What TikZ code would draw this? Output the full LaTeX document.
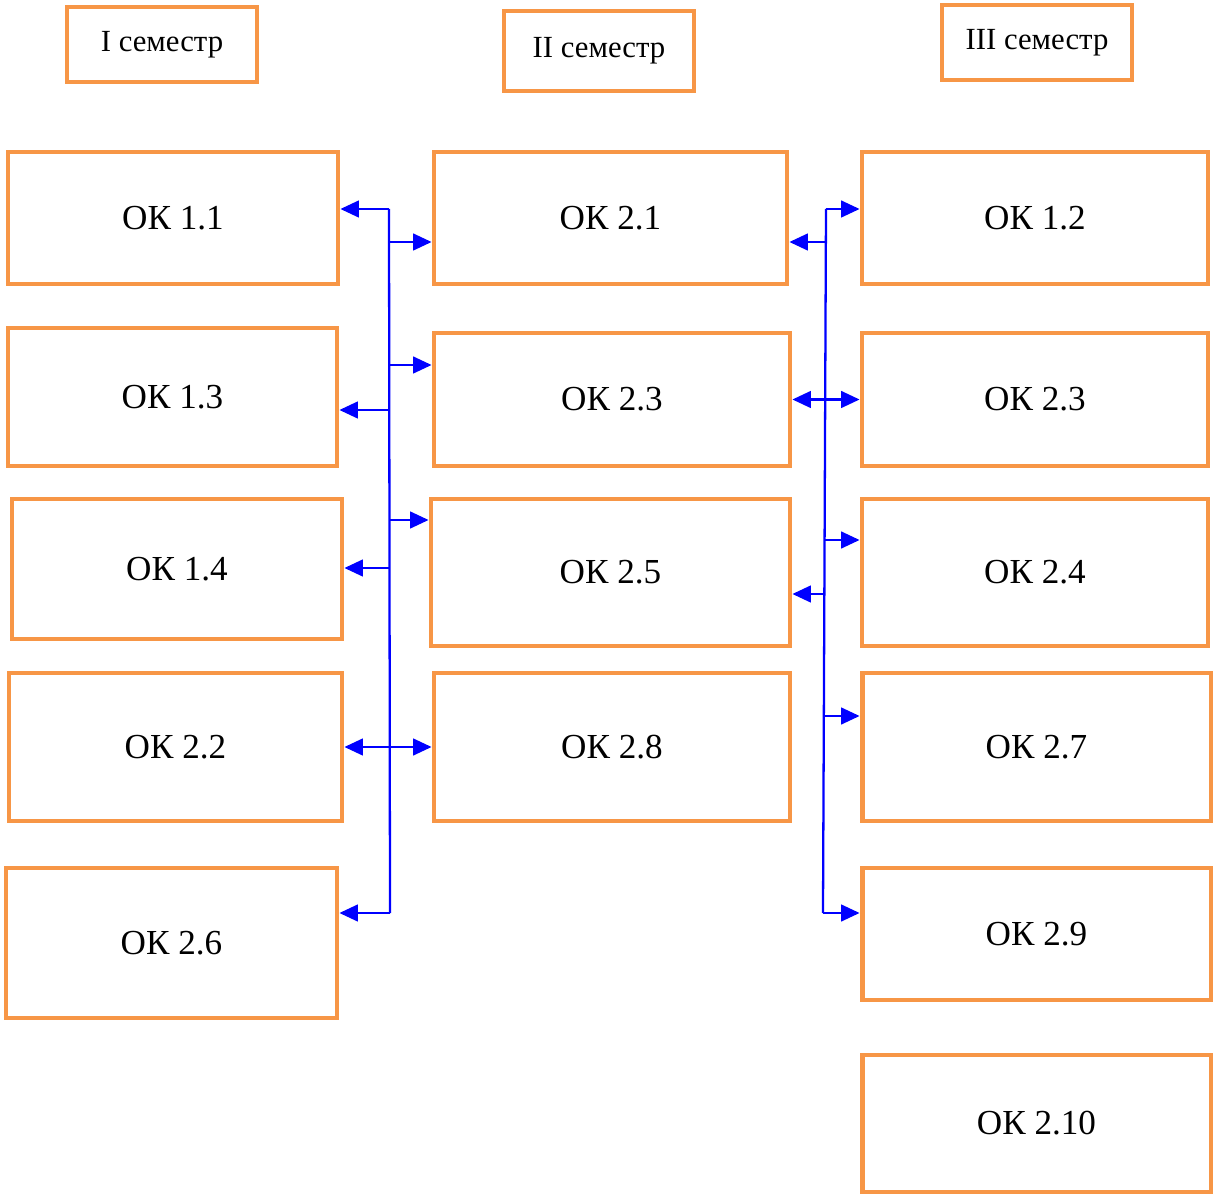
\documentclass[tikz,border=0pt]{standalone}
\usepackage{fontspec}
\setmainfont{Liberation Serif}
\usepackage{tikz}
\usetikzlibrary{arrows.meta}
\definecolor{boxorange}{RGB}{247,150,70}
\tikzset{>={Triangle[length=10.5pt,width=9.5pt]}}
\tikzstyle{block} = [rectangle, draw=boxorange, line width=2.8pt, fill=white,
    inner sep=0pt, text centered]
\tikzstyle{sem} = [block, font=\fontsize{17.5}{20}\selectfont]
\tikzstyle{ok} = [block, font=\fontsize{20}{24}\selectfont]
\tikzstyle{link} = [blue, line width=1.3pt]

\begin{document}
\begin{tikzpicture}[x=0.02cm, y=-0.02cm]
 \useasboundingbox (0,0) rectangle (1215,1196);

 \node [sem, minimum width=3.8cm, minimum height=1.5cm] (s1) at (162,44.5) {I семестр};
 \node [sem, minimum width=3.8cm, minimum height=1.6cm] (s2) at (599,51) {II семестр};
 \node [sem, minimum width=3.8cm, minimum height=1.5cm] (s3) at (1037,42.5) {III семестр};

 % first column
 \node [ok, minimum width=6.6cm, minimum height=2.64cm] (n11) at (173,218) {ОК 1.1};
 \node [ok, minimum width=6.58cm, minimum height=2.76cm] (n13) at (172.5,397) {ОК 1.3};
 \node [ok, minimum width=6.6cm, minimum height=2.8cm] (n14) at (177,569) {ОК 1.4};
 \node [ok, minimum width=6.66cm, minimum height=2.96cm] (n22) at (175.5,747) {ОК 2.2};
 \node [ok, minimum width=6.62cm, minimum height=3cm] (n26) at (171.5,943) {ОК 2.6};

 % second column
 \node [ok, minimum width=7.06cm, minimum height=2.64cm] (m21) at (610.5,218) {ОК 2.1};
 \node [ok, minimum width=7.12cm, minimum height=2.66cm] (m23) at (612,399.5) {ОК 2.3};
 \node [ok, minimum width=7.18cm, minimum height=2.94cm] (m25) at (610.5,572.5) {ОК 2.5};
 \node [ok, minimum width=7.12cm, minimum height=2.96cm] (m28) at (612,747) {ОК 2.8};

 % third column
 \node [ok, minimum width=6.92cm, minimum height=2.64cm] (r12) at (1035,218) {ОК 1.2};
 \node [ok, minimum width=6.92cm, minimum height=2.66cm] (r23) at (1035,399.5) {ОК 2.3};
 \node [ok, minimum width=6.92cm, minimum height=2.94cm] (r24) at (1035,572.5) {ОК 2.4};
 \node [ok, minimum width=6.98cm, minimum height=2.96cm] (r27) at (1036.5,747) {ОК 2.7};
 \node [ok, minimum width=6.98cm, minimum height=2.64cm] (r29) at (1036.5,934) {ОК 2.9};
 \node [ok, minimum width=6.98cm, minimum height=2.74cm] (r210) at (1036.5,1123.5) {ОК 2.10};

 % left bus
 \coordinate (lt) at (389,209);
 \coordinate (lb) at (390,913);
 \coordinate (l2) at (390,242);
 \coordinate (l3) at (390,365);
 \coordinate (l4) at (389.5,410);
 \coordinate (l5) at (389.5,520);
 \coordinate (l6) at (389.5,568);
 \draw[link] (lt) -- (lb);
 \path[link,->] (lt) edge (lt -| n11.east);
 \path[link,->] (l2) edge (l2 -| m21.west);
 \path[link,->] (l3) edge (l3 -| m23.west);
 \path[link,->] (l4) edge (l4 -| n13.east);
 \path[link,->] (l5) edge (l5 -| m25.west);
 \path[link,->] (l6) edge (l6 -| n14.east);
 \path[link,<->] (n22) edge (m28);
 \path[link,->] (lb) edge (lb -| n26.east);

 % right bus
 \coordinate (rt) at (826,209);
 \coordinate (rb) at (823,913);
 \coordinate (r2) at (826,242);
 \coordinate (r4) at (824,540);
 \coordinate (r5) at (825,594);
 \coordinate (r6) at (824,716);
 \draw[link] (rt) -- (rb);
 \path[link,->] (rt) edge (rt -| r12.west);
 \path[link,->] (r2) edge (r2 -| m21.east);
 \path[link,<->] (m23) edge (r23);
 \path[link,->] (r4) edge (r4 -| r24.west);
 \path[link,->] (r5) edge (r5 -| m25.east);
 \path[link,->] (r6) edge (r6 -| r27.west);
 \path[link,->] (rb) edge (rb -| r29.west);
\end{tikzpicture}
\end{document}
